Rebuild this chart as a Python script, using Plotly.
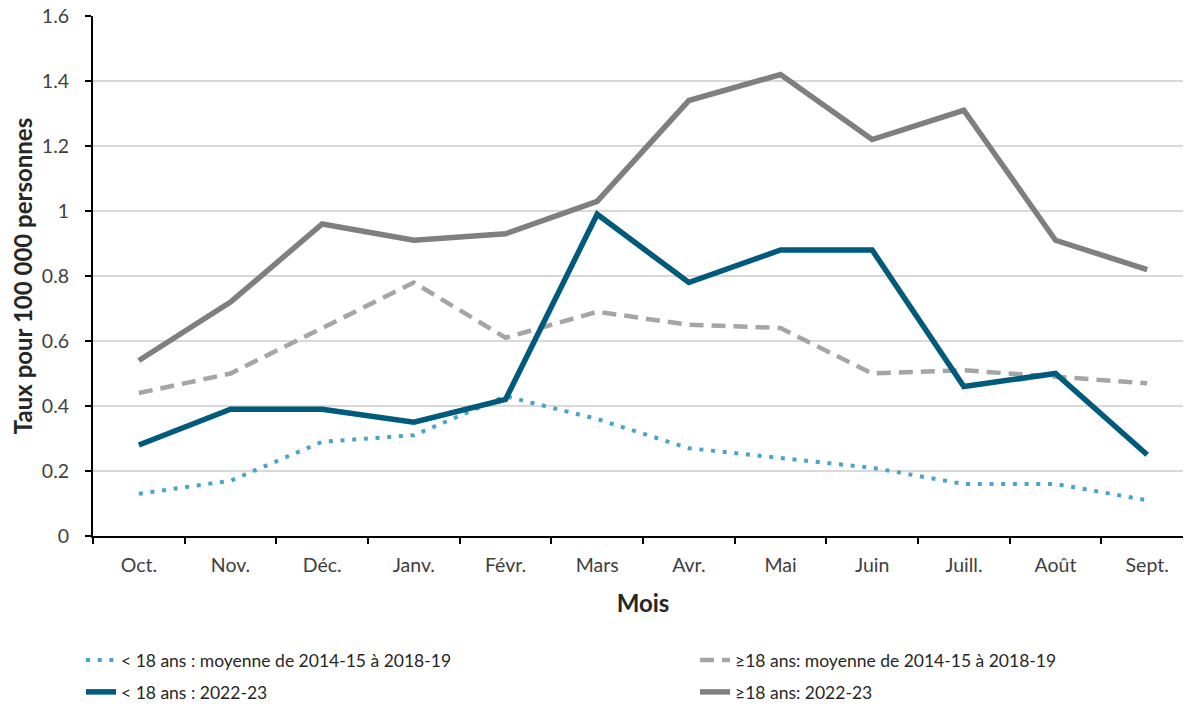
import plotly.graph_objects as go

months = ["Oct.", "Nov.", "Déc.", "Janv.", "Févr.", "Mars", "Avr.", "Mai", "Juin", "Juill.", "Août", "Sept."]
under18_avg = [0.13, 0.17, 0.29, 0.31, 0.43, 0.36, 0.27, 0.24, 0.21, 0.16, 0.16, 0.11]
over18_avg = [0.44, 0.50, 0.64, 0.78, 0.61, 0.69, 0.65, 0.64, 0.50, 0.51, 0.49, 0.47]
under18_2223 = [0.28, 0.39, 0.39, 0.35, 0.42, 0.99, 0.78, 0.88, 0.88, 0.46, 0.50, 0.25]
over18_2223 = [0.54, 0.72, 0.96, 0.91, 0.93, 1.03, 1.34, 1.42, 1.22, 1.31, 0.91, 0.82]

FONT = "Lato"
fig = go.Figure()
fig.add_trace(go.Scatter(x=months, y=over18_2223, mode="lines", name="≥18 ans: 2022-23",
                         line=dict(color="#7F7F7F", width=5.5), legend="legend4"))
fig.add_trace(go.Scatter(x=months, y=over18_avg, mode="lines", name="≥18 ans: moyenne de 2014-15 à 2018-19",
                         line=dict(color="#A5A5A5", width=4.5, dash="14px,8px"), legend="legend2"))
fig.add_trace(go.Scatter(x=months, y=under18_avg, mode="lines", name="< 18 ans : moyenne de 2014-15 à 2018-19",
                         line=dict(color="#4BA3C7", width=4, dash="4px,7.7px"), legend="legend"))
fig.add_trace(go.Scatter(x=months, y=under18_2223, mode="lines", name="< 18 ans : 2022-23",
                         line=dict(color="#005A7C", width=5.5), legend="legend3"))

# page body adds an 8px offset; positions below are in figure pixels
def leg(xpx, ypx):
    return dict(orientation="h", xref="container", yref="container", xanchor="left", yanchor="middle",
                x=xpx / 1191, y=1 - ypx / 709,
                font=dict(family=FONT, size=17.5, color="#262626"), bgcolor="rgba(0,0,0,0)")

fig.update_layout(
    width=1191, height=709,
    margin=dict(l=85, r=6, t=8, b=181),
    plot_bgcolor="white", paper_bgcolor="white",
    font=dict(family=FONT, size=18, color="#404040"),
    showlegend=True,
    legend=leg(73, 652),
    legend2=leg(687, 652),
    legend3=leg(73, 684),
    legend4=leg(687, 684),
    xaxis=dict(type="category", range=[-0.5, 11.5], showline=True, linecolor="black", linewidth=2,
               ticks="outside", tickson="boundaries", ticklen=6, tickcolor="black", tickwidth=2,
               showgrid=False, tickfont=dict(size=19.5, color="#404040"), automargin=False,
               ticklabelstandoff=11,
               title=dict(text="<b>Mois</b>", font=dict(size=24, color="#262626"), standoff=20)),
    yaxis=dict(range=[0, 1.6001], dtick=0.2, tick0=0, showline=True, linecolor="black", linewidth=2,
               ticks="outside", ticklen=6, tickcolor="black", tickwidth=2, ticklabeloverflow="allow",
               showgrid=True, gridcolor="#D9D9D9", gridwidth=2, zeroline=False,
               tickfont=dict(size=19.5, color="#404040"), automargin=False, ticklabelstandoff=12,
               title=dict(text="<b>Taux pour 100 000 personnes</b>", font=dict(size=24, color="#262626"), standoff=20)),
)
fig.write_html("out.html")
